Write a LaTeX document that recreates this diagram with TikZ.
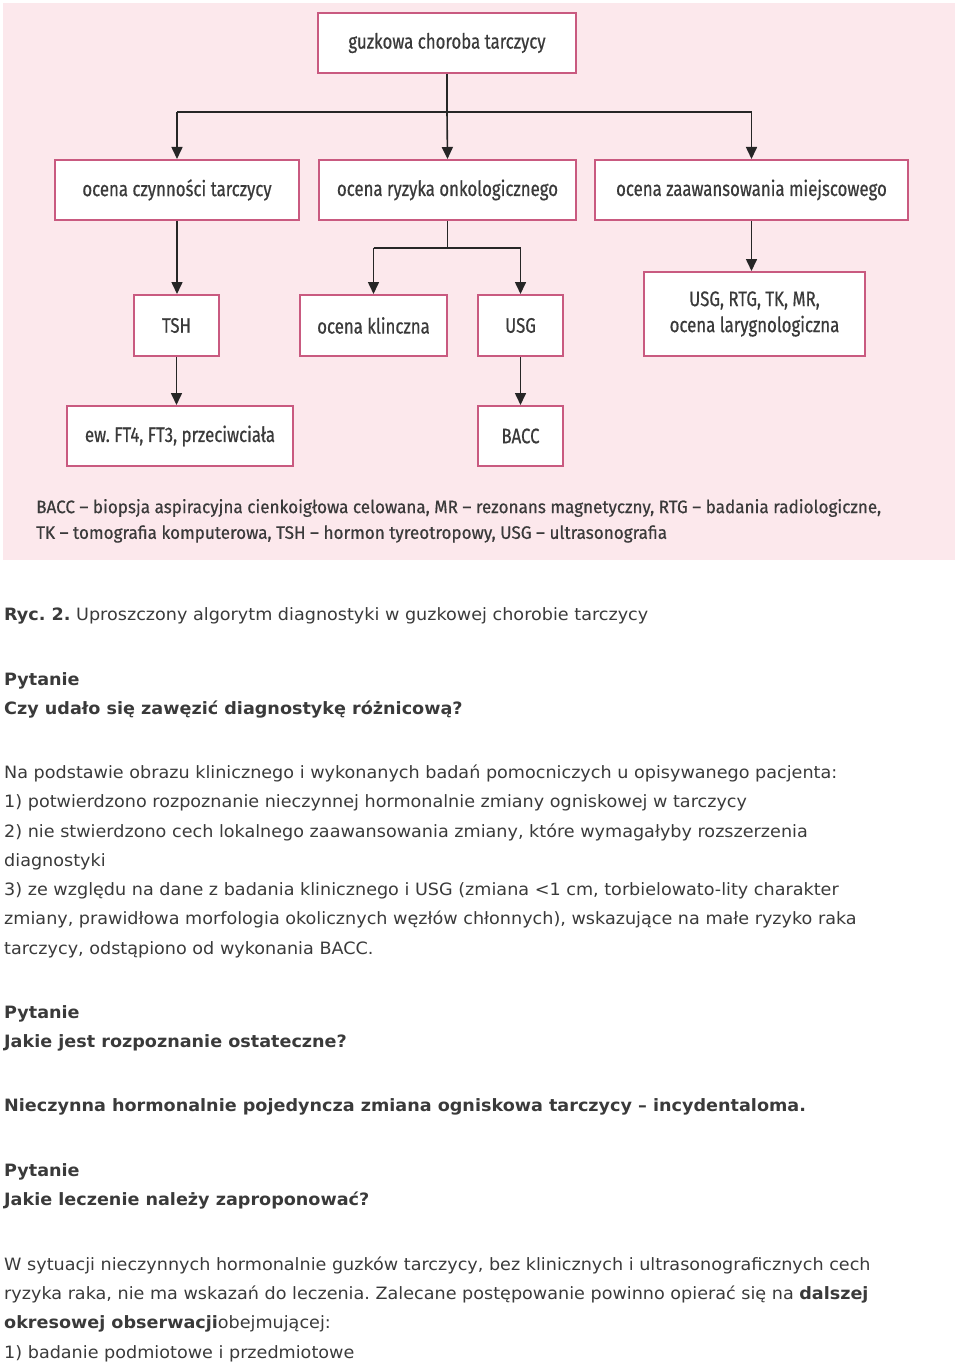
\documentclass[tikz,border=0pt]{standalone}
\usepackage{fontspec}
\setmainfont{DejaVu Sans}[FakeStretch=1.035]
\newfontfamily\diag[FakeStretch=0.8,FakeBold=0.6]{Fira Sans}
\newfontfamily\legfont[FakeStretch=0.95,FakeBold=0.5]{Fira Sans}
\usetikzlibrary{arrows.meta,calc}
\definecolor{bgpink}{HTML}{FCE8EC}
\definecolor{boxline}{HTML}{C95A80}
\definecolor{txt}{HTML}{3A3A3A}
\frenchspacing
\begin{document}
\begin{tikzpicture}[x=1pt,y=-1pt,
 box/.style={draw=boxline, line width=2pt, fill=white, text=txt, font=\diag\fontsize{21}{26}\selectfont, inner sep=0pt, align=center},
 arr/.style={line width=1.6pt, -{Triangle[width=11pt,length=12pt]}, draw=black!85, fill=black!85},
 ln/.style={line width=1.6pt, draw=black!85},
 leg/.style={anchor=west, inner sep=0pt, text=txt, font=\legfont\fontsize{18}{22}\selectfont},
 para/.style={anchor=base west, inner sep=0pt, text=txt, font=\fontsize{17}{20}\selectfont},
 bpara/.style={para, font=\bfseries\fontsize{17}{20}\selectfont}]
\useasboundingbox (0,0) rectangle (960,1364);
\fill[bgpink] (3,3) rectangle (955,560);

% boxes
\node[box, minimum width=258, minimum height=60] (top) at (447,43) {guzkowa choroba tarczycy};
\node[box, minimum width=244, minimum height=60] (f) at (177,190) {ocena czynności tarczycy};
\node[box, minimum width=257, minimum height=60] (r) at (447.5,190) {ocena ryzyka onkologicznego};
\node[box, minimum width=313, minimum height=60] (z) at (751.5,190) {ocena zaawansowania miejscowego};
\node[box, minimum width=85, minimum height=61] (tsh) at (176.5,325.5) {TSH};
\node[box, minimum width=147, minimum height=61] (kl) at (373.5,325.5) {ocena klinczna};
\node[box, minimum width=85, minimum height=61] (usg) at (520.5,325.5) {USG};
\node[box, minimum width=221, minimum height=84] (lrg) at (754.5,314) {USG, RTG, TK, MR,\\ocena larygnologiczna};
\node[box, minimum width=226, minimum height=60] (ew) at (180,436) {ew. FT4, FT3, przeciwciała};
\node[box, minimum width=85, minimum height=60] (bacc) at (520.5,436) {BACC};

% connectors
\coordinate (bus) at ($(top.south)+(0,38)$);
\coordinate (bus2) at ($(r.south)+(0,27)$);
\draw[ln] (top.south) -- (bus);
\draw[ln] (f.north |- bus) -- (z.north |- bus);
\draw[arr] (f.north |- bus) -- (f.north);
\draw[arr] (bus) -- (r.north);
\draw[arr] (z.north |- bus) -- (z.north);
\draw[ln] (r.south) -- (bus2);
\draw[ln] (kl.north |- bus2) -- (usg.north |- bus2);
\draw[arr] (kl.north |- bus2) -- (kl.north);
\draw[arr] (usg.north |- bus2) -- (usg.north);
\draw[arr] (f.south) -- (f.south |- tsh.north);
\draw[arr] (z.south) -- (z.south |- lrg.north);
\draw[arr] (tsh.south) -- (tsh.south |- ew.north);
\draw[arr] (usg.south) -- (bacc.north);

% legend
\node[leg] (leg1) at (36,508) {BACC – biopsja aspiracyjna cienkoigłowa celowana, MR – rezonans magnetyczny, RTG – badania radiologiczne,};
\node[leg] (leg2) at (36,534) {TK – tomografia komputerowa, TSH – hormon tyreotropowy, USG – ultrasonografia};

% text below
\node[para] (t1) at (4,620) {\textbf{Ryc. 2.} Uproszczony algorytm diagnostyki w guzkowej chorobie tarczycy};
\node[bpara] (t2) at (4,685) {Pytanie};
\node[bpara] (t3) at (4,714) {Czy udało się zawęzić diagnostykę różnicową?};
\node[para] (t4) at (4,778) {Na podstawie obrazu klinicznego i wykonanych badań pomocniczych u opisywanego pacjenta:};
\node[para] (t5) at (4,807) {1) potwierdzono rozpoznanie nieczynnej hormonalnie zmiany ogniskowej w tarczycy};
\node[para] (t6) at (4,837) {2) nie stwierdzono cech lokalnego zaawansowania zmiany, które wymagałyby rozszerzenia};
\node[para] (t7) at (4,866) {diagnostyki};
\node[para] (t8) at (4,895) {3) ze względu na dane z badania klinicznego i USG (zmiana <1 cm, torbielowato-lity charakter};
\node[para] (t9) at (4,924) {zmiany, prawidłowa morfologia okolicznych węzłów chłonnych), wskazujące na małe ryzyko raka};
\node[para] (t10) at (4,954) {tarczycy, odstąpiono od wykonania BACC.};
\node[bpara] (t11) at (4,1018) {Pytanie};
\node[bpara] (t12) at (4,1047) {Jakie jest rozpoznanie ostateczne?};
\node[bpara] (t13) at (4,1111) {Nieczynna hormonalnie pojedyncza zmiana ogniskowa tarczycy – incydentaloma.};
\node[bpara] (t14) at (4,1176) {Pytanie};
\node[bpara] (t15) at (4,1205) {Jakie leczenie należy zaproponować?};
\node[para] (t16) at (4,1270) {W sytuacji nieczynnych hormonalnie guzków tarczycy, bez klinicznych i ultrasonograficznych cech};
\node[para] (t17) at (4,1299) {ryzyka raka, nie ma wskazań do leczenia. Zalecane postępowanie powinno opierać się na \textbf{dalszej}};
\node[para] (t18) at (4,1328) {\textbf{okresowej obserwacji}obejmującej:};
\node[para] (t19) at (4,1358) {1) badanie podmiotowe i przedmiotowe};
\end{tikzpicture}
\end{document}
